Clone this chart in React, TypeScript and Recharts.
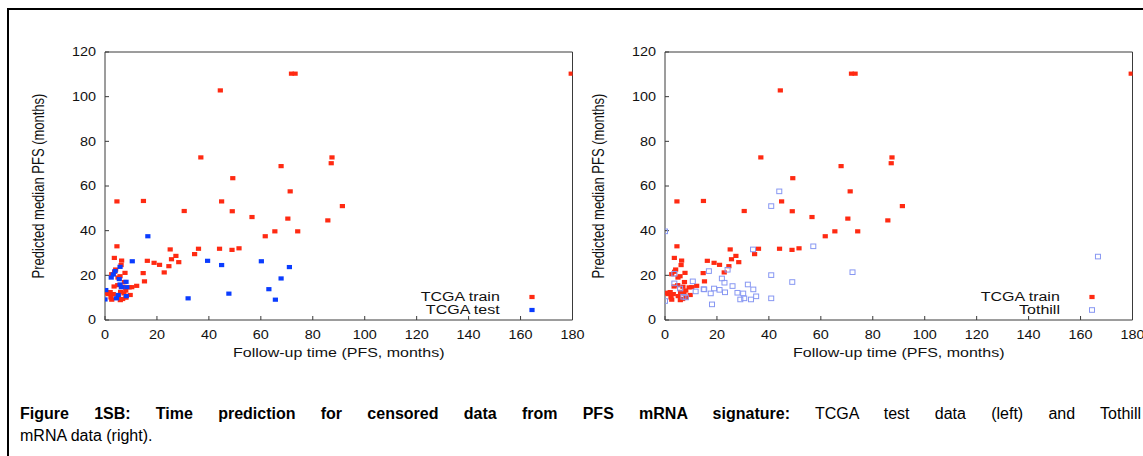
import React from "react";
import { Legend, Scatter, ScatterChart, XAxis, YAxis } from "recharts";

// ticks
const xTicks = [0, 20, 40, 60, 80, 100, 120, 140, 160, 180];
const yTicks = [0, 20, 40, 60, 80, 100, 120];

// [follow-up time (PFS, months), predicted median PFS (months)]
const tcgaTrain: [number, number][] = [
  [44.4, 102.8], [71.8, 110.3], [73.2, 110.3], [179.5, 110.3],
  [36.9, 72.8], [87.4, 72.8], [87.1, 70.2], [67.8, 68.9], [49.2, 63.5], [71.3, 57.6],
  [4.6, 53.1], [14.8, 53.3], [44.9, 53.1], [91.4, 51], [30.5, 48.8], [49, 48.7],
  [56.6, 46.1], [70.4, 45.4], [85.8, 44.6], [65.4, 39.7], [74.2, 39.7], [61.7, 37.5],
  [4.6, 33], [25.1, 31.6], [36, 31.9], [44.1, 31.9], [48.9, 31.4], [51.6, 32.1],
  [34.5, 29.5], [27.3, 28.7], [3.6, 27.8], [25.6, 27.2], [6.4, 26.6], [16.3, 26.5],
  [28.4, 25.9], [18.9, 25.6], [21, 24.7], [6.2, 24.6], [24.6, 24.1],
  [4.1, 22.6], [3.7, 21.6], [22.8, 21.3], [7.7, 21.1], [14.7, 21], [2.6, 20.5],
  [5.8, 19.6], [5, 19], [15.2, 17.3], [7.5, 17], [4.9, 15.6], [12.2, 15.3], [3.5, 15],
  [6.9, 14.9], [10.3, 14.7], [9.3, 14.6], [8, 13.2], [6, 12.6], [2, 12.5], [0.4, 11.9],
  [7.3, 11.9], [1.3, 11.6], [3.2, 11.6], [9.7, 11.2], [5.1, 10.7], [2.3, 10.1],
  [8.1, 10], [2.6, 9.1], [5.9, 8.9], [6.8, 9.4], [0.6, 12.2],
];

const tcgaTest: [number, number][] = [
  [16.5, 37.5], [39.5, 26.5], [60.2, 26.3], [10.5, 26.3], [44.9, 24.6], [71, 23.7],
  [5.8, 23.8], [3.9, 21.9], [3.2, 20.4], [2.4, 19], [67.8, 18.6], [5.5, 18.3],
  [8.1, 17.1], [5.8, 15.9], [6.3, 14.7], [8.4, 14.7], [63.1, 13.8], [0.3, 13.4],
  [47.7, 11.8], [5.1, 11.2], [8.2, 10.7], [32, 9.7], [4.4, 9.7], [0, 9.2], [65.6, 9.1],
];

const tothill: [number, number][] = [
  [44, 57.6], [40.9, 51], [0, 39.7], [57.1, 33], [33.9, 31.6], [24.1, 22.5],
  [16.9, 21.9], [72.2, 21.4], [3.6, 20.7], [40.9, 20.1], [21.9, 18.6], [10.7, 17.3],
  [49, 17], [22.9, 16.7], [3.6, 16.4], [31.9, 15.9], [26, 15.2], [5.8, 14.1],
  [18.9, 14.1], [14.9, 13.8], [15.1, 13.7], [34, 13.7], [21, 13.5], [11.8, 12.8],
  [23.1, 12.4], [27.9, 12.2], [17.6, 11.9], [30.1, 11.9], [35.1, 10.6], [7.1, 10.4],
  [8, 10.1], [30.5, 9.7], [40.9, 9.7], [29, 9.2], [33.1, 9.2], [0, 8.5], [18.1, 7],
  [166.7, 28.4],
];

const seriesOrder = ["TCGA train", "TCGA test", "Tothill"];

const RED = "#ff2a12";
const BLUE = "#0a3cff";
const PALE = "#8797f2";
const INK = "#111";
const AXIS = "#3a3a3a";
const FONT = '"Liberation Sans", Arial, Helvetica, sans-serif';
const STRETCH = 1.28; // source figure is widened horizontally

// plot box inside each panel svg
const PANEL_W = 583;
const PANEL_H = 380;
const LEFT = 105;
const RIGHT = 572.5;
const TOP = 52;
const BOTTOM = 320;

const toRows = (pts: [number, number][]) => pts.map(([x, y]) => ({ x, y }));

const markers: Record<string, { color: string; open?: boolean }> = {
  "TCGA train": { color: RED },
  "TCGA test": { color: BLUE },
  Tothill: { color: PALE, open: true },
};

function Mark({ cx, cy, name }: { cx: number; cy: number; name: string }) {
  const m = markers[name];
  if (m.open) {
    return <rect x={cx - 2.5} y={cy - 2.3} width={5} height={4.6} fill="none" stroke={m.color} strokeWidth={1} />;
  }
  return <rect x={cx - 2.6} y={cy - 2.1} width={5.2} height={4.2} fill={m.color} />;
}

function XTick({ x, payload }: any) {
  return (
    <text transform={`translate(${x},${BOTTOM + 18.5}) scale(1.2,1)`} textAnchor="middle" fontSize={12} fontFamily={FONT} fill={INK}>
      {payload.value}
    </text>
  );
}

function YTick({ y, payload }: any) {
  return (
    <text transform={`translate(${LEFT - 9},${y + 4.3}) scale(1.2,1)`} textAnchor="end" fontSize={12} fontFamily={FONT} fill={INK}>
      {payload.value}
    </text>
  );
}

function XTitle() {
  return (
    <text transform={`translate(${(LEFT + RIGHT) / 2},${BOTTOM + 36.5}) scale(${STRETCH},1)`} textAnchor="middle" fontSize={12.5} fontFamily={FONT} fill={INK}>
      Follow-up time (PFS, months)
    </text>
  );
}

function YTitle() {
  return (
    <text transform={`translate(${LEFT - 67},${(TOP + BOTTOM) / 2}) scale(${STRETCH},1) rotate(-90)`} textAnchor="middle" dy="0.35em" fontSize={13} fontFamily={FONT} fill={INK}>
      Predicted median PFS (months)
    </text>
  );
}

function KeyBox({ payload }: any) {
  const items = [...(payload || [])].sort(
    (a: any, b: any) => seriesOrder.indexOf(a.value) - seriesOrder.indexOf(b.value)
  );
  return (
    <div style={{ fontFamily: FONT, color: INK }}>
      {items.map((entry: any) => (
        <div key={entry.value} style={{ position: "relative", height: 13 }}>
          <span
            style={{
              position: "absolute",
              right: 40,
              top: 0,
              fontSize: 12.5,
              lineHeight: "13px",
              whiteSpace: "nowrap",
              transform: `scaleX(${STRETCH})`,
              transformOrigin: "right center",
            }}
          >
            {entry.value}
          </span>
          <svg width={8} height={8} style={{ position: "absolute", left: 133, top: 2.5 }}>
            <Mark cx={4} cy={4} name={entry.value} />
          </svg>
        </div>
      ))}
    </div>
  );
}

function Panel({ otherName, other }: { otherName: string; other: [number, number][] }) {
  // axes are 1px thick bands so the margins are 1px short of the plot box
  return (
    <ScatterChart
      width={PANEL_W}
      height={PANEL_H}
      margin={{ top: TOP - 1, right: PANEL_W - RIGHT - 1, bottom: PANEL_H - BOTTOM - 1, left: LEFT - 1 }}
    >
      <XAxis xAxisId="b" dataKey="x" type="number" domain={[0, 180]} ticks={xTicks} interval={0} height={1} tickSize={-4} stroke={AXIS} tick={<XTick />} label={<XTitle />} allowDataOverflow />
      <XAxis xAxisId="t" orientation="top" type="number" domain={[0, 180]} ticks={xTicks} interval={0} height={1} tickSize={-4} stroke={AXIS} tick={false} allowDataOverflow />
      <YAxis yAxisId="l" dataKey="y" type="number" domain={[0, 120]} ticks={yTicks} interval={0} width={1} tickSize={-4} stroke={AXIS} tick={<YTick />} label={<YTitle />} allowDataOverflow />
      <YAxis yAxisId="r" orientation="right" type="number" domain={[0, 120]} ticks={yTicks} interval={0} width={1} tickSize={-4} stroke={AXIS} tick={false} allowDataOverflow />
      <Legend
        layout="vertical"
        align="center"
        verticalAlign="middle"
        wrapperStyle={{ left: 395, top: 290.5, width: 145 }}
        content={(p: any) => <KeyBox payload={p.payload} />}
      />
      <Scatter
        name="TCGA train"
        xAxisId="b"
        yAxisId="l"
        data={toRows(tcgaTrain)}
        fill={RED}
        isAnimationActive={false}
        shape={(p: any) => <Mark cx={p.cx} cy={p.cy} name="TCGA train" />}
      />
      <Scatter
        name={otherName}
        xAxisId="b"
        yAxisId="l"
        data={toRows(other)}
        fill={markers[otherName].color}
        isAnimationActive={false}
        shape={(p: any) => <Mark cx={p.cx} cy={p.cy} name={otherName} />}
      />
    </ScatterChart>
  );
}

export default function App() {
  return (
    <div style={{ position: "absolute", left: 0, top: 0, width: 1143, height: 456, overflow: "hidden", background: "#fff" }}>
      <style>{`.recharts-surface { overflow: visible; }`}</style>
      <div style={{ position: "absolute", left: 7, top: 8, width: 1200, height: 520, border: "2px solid #000" }} />
      <div style={{ position: "absolute", left: 0, top: 0 }}>
        <Panel otherName="TCGA test" other={tcgaTest} />
      </div>
      <div style={{ position: "absolute", left: 560, top: 0 }}>
        <Panel otherName="Tothill" other={tothill} />
      </div>
      <div style={{ position: "absolute", left: 20, top: 403, width: 1121, fontFamily: FONT, fontSize: 16, lineHeight: "22px", color: "#000" }}>
        <div style={{ textAlign: "justify", textAlignLast: "justify" }}>
          <b>Figure 1SB: Time prediction for censored data from PFS mRNA signature:</b> TCGA test data (left) and Tothill
        </div>
        <div>mRNA data (right).</div>
      </div>
    </div>
  );
}
